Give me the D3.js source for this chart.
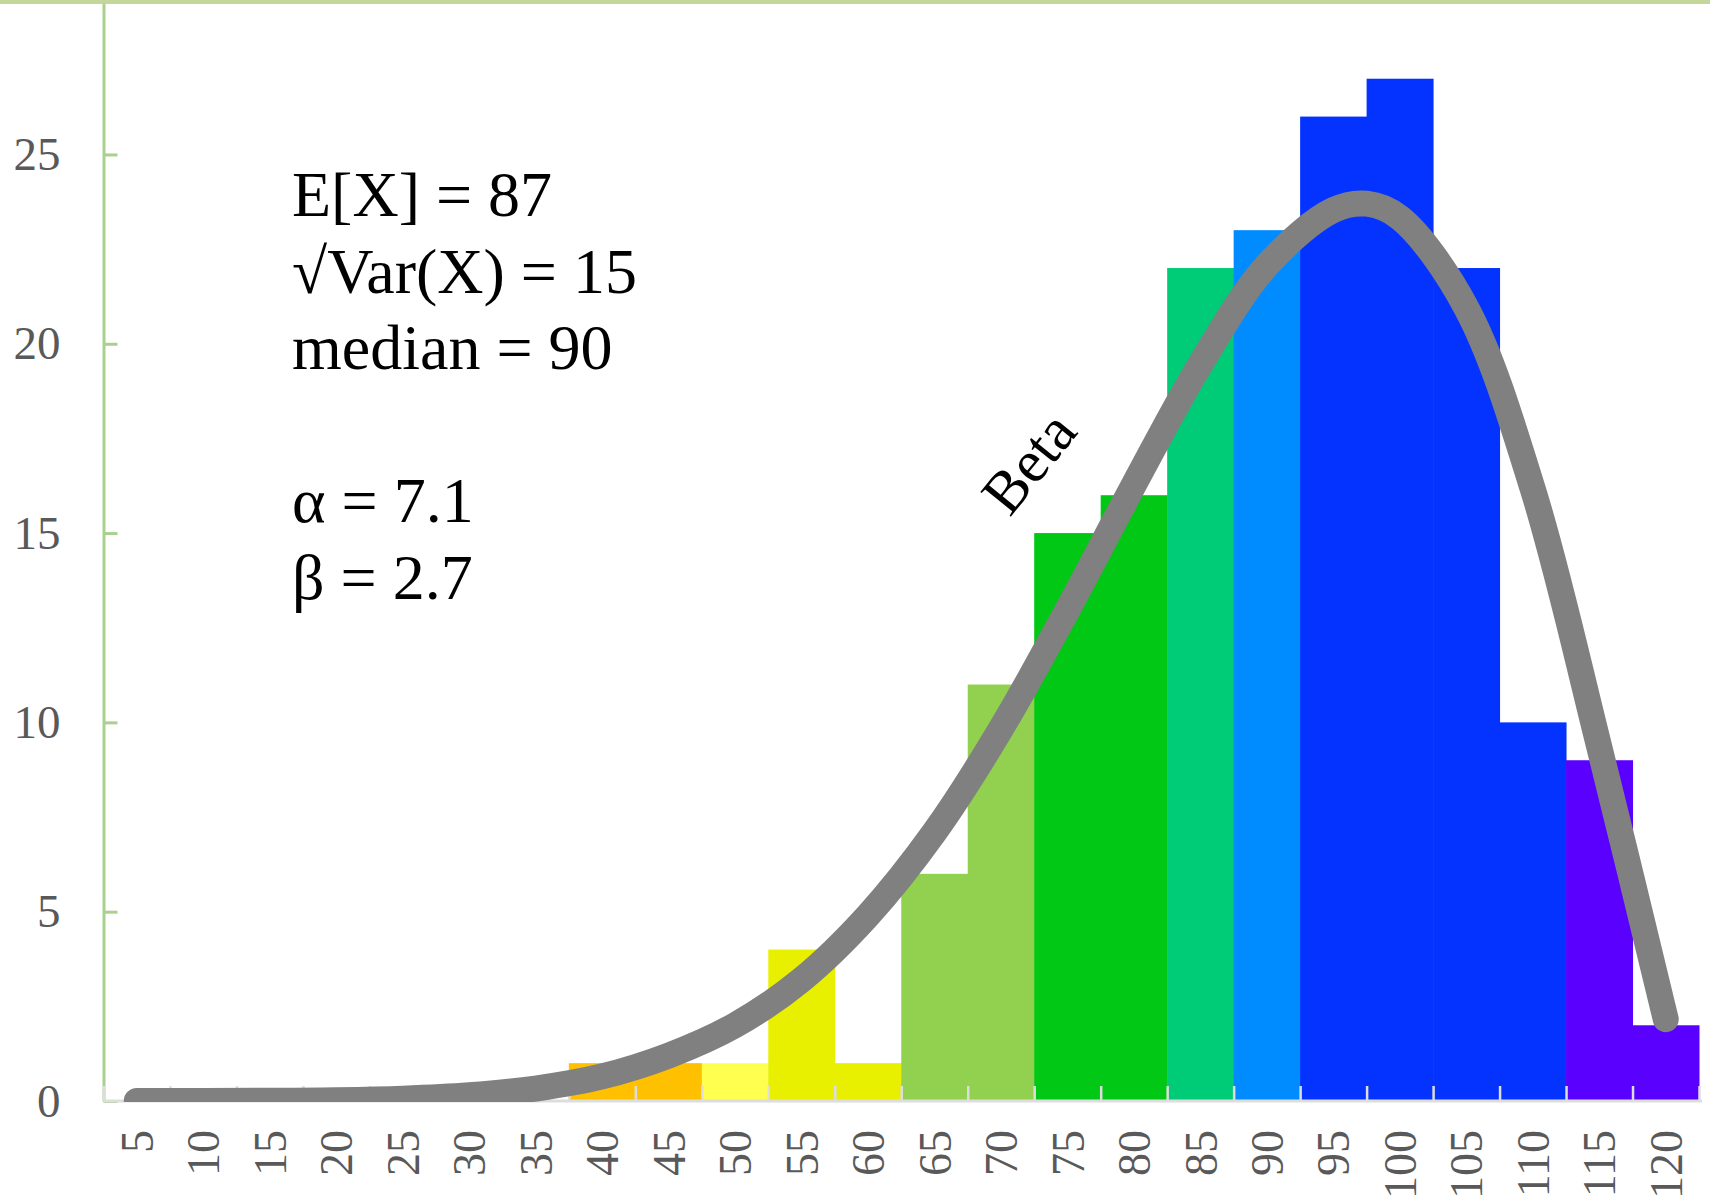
<!DOCTYPE html>
<html>
<head>
<meta charset="utf-8">
<script src="https://cdn.jsdelivr.net/npm/d3@7"></script>
<style>
  html, body { margin: 0; padding: 0; background: #ffffff; }
  svg { display: block; }
</style>
</head>
<body>
<svg id="chart" width="1710" height="1202"></svg>
<script>
// ---- data ----
const categories = ["5","10","15","20","25","30","35","40","45","50","55","60",
                    "65","70","75","80","85","90","95","100","105","110","115","120"];
const counts = [0,0,0,0,0,0,0,1,1,1,4,1,6,11,15,16,22,23,26,27,22,10,9,2];
const barColors = ["#ffc000","#ffc000","#ffc000","#ffc000","#ffc000","#ffc000","#ffc000",
                   "#ffc000","#ffc000","#ffff50","#e8f000","#e8f000","#92d050","#92d050",
                   "#00c814","#00c814","#00cc77","#008cff","#0433ff","#0433ff","#0433ff",
                   "#0433ff","#5a00ff","#5a00ff"];
const curveX = [5,10,15,20,25,30,35,40,45,50,55,60,65,70,75,80,85,90,95,97.5,100,105,110,115,120];
const curveY = [0,0,0.005,0.02,0.06,0.15,0.33,0.65,1.2,2.0,3.2,4.9,7.1,9.83,12.97,
                16.28,19.46,22.07,23.53,23.7,23.33,20.95,16.16,9.35,2.16];
const yTicks = [0,5,10,15,20,25];
const xEdges = [2.5,7.5,12.5,17.5,22.5,27.5,32.5,37.5,42.5,47.5,52.5,57.5,62.5,67.5,
                72.5,77.5,82.5,87.5,92.5,97.5,102.5,107.5,112.5,117.5,122.5];
const statLines = ["E[X] = 87", "\u221AVar(X) = 15", "median = 90", "", "\u03B1 = 7.1", "\u03B2 = 2.7"];
const curveLabel = "Beta";

(function () {
// ---- layout ----
const W = 1710, H = 1202;
const plotLeft = 103.5, plotRight = 1699, plotBottom = 1101, plotTop = 3;
const serif = "'Liberation Serif', 'Times New Roman', serif";

const svg = d3.select("#chart");

const xb = d3.scaleBand().domain(categories).range([plotLeft, plotRight]).padding(0);
const xl = d3.scaleLinear().domain([2.5, 122.5]).range([plotLeft, plotRight]);
const y = d3.scaleLinear().domain([0, 29]).range([plotBottom, plotTop]);

// top border
svg.append("rect").attr("x", 0).attr("y", 0).attr("width", W).attr("height", 4)
   .attr("fill", "#c4d79b");

// bars
svg.append("g").selectAll("rect")
  .data(categories)
  .join("rect")
  .attr("x", d => xb(d))
  .attr("width", xb.bandwidth() + 0.5)
  .attr("y", (d, i) => y(counts[i]))
  .attr("height", (d, i) => y(0) - y(counts[i]))
  .attr("fill", (d, i) => barColors[i]);

// y axis
const yAxis = svg.append("g")
  .attr("transform", `translate(${plotLeft},0)`)
  .call(d3.axisLeft(y).tickValues(yTicks).tickSize(-14).tickSizeOuter(0).tickPadding(43));
yAxis.select(".domain").attr("stroke", "#a9d18e").attr("stroke-width", 3);
yAxis.selectAll(".tick line").attr("stroke", "#a9d18e").attr("stroke-width", 3);
yAxis.selectAll(".tick text")
  .attr("font-family", serif).attr("font-size", 47).attr("fill", "#595959");

// x axis ticks at bin edges
const xTickAxis = svg.append("g")
  .attr("transform", `translate(0,${plotBottom})`)
  .call(d3.axisBottom(xl).tickValues(xEdges).tickSize(-15).tickSizeOuter(0).tickFormat(""));
xTickAxis.select(".domain").attr("stroke", "#dddddd").attr("stroke-width", 3)
  .attr("d", `M${plotLeft},0H${plotRight + 3}`);
xTickAxis.selectAll(".tick line").attr("stroke", "#dddddd").attr("stroke-width", 2.5);

// x labels
const xLabAxis = svg.append("g")
  .attr("transform", `translate(0,${plotBottom})`)
  .call(d3.axisBottom(xb).tickSize(0));
xLabAxis.select(".domain").remove();
xLabAxis.selectAll(".tick text")
  .attr("font-family", serif).attr("font-size", 46).attr("fill", "#595959")
  .attr("transform", "rotate(-90)")
  .attr("text-anchor", "end")
  .attr("x", -29).attr("y", 0).attr("dy", "0.35em");

// curve
svg.append("clipPath").attr("id", "clip")
  .append("rect").attr("x", 0).attr("y", 0).attr("width", W).attr("height", plotBottom + 1);

const line = d3.line()
  .x((d, i) => xl(curveX[i]))
  .y(d => y(d))
  .curve(d3.curveCatmullRom.alpha(0.5));

svg.append("path")
  .attr("clip-path", "url(#clip)")
  .attr("d", line(curveY))
  .attr("fill", "none")
  .attr("stroke", "#808080")
  .attr("stroke-width", 26)
  .attr("stroke-linecap", "round")
  .attr("stroke-linejoin", "round");

// curve label
svg.append("text")
  .attr("transform", "translate(1028,462) rotate(-51)")
  .attr("text-anchor", "middle")
  .attr("dy", "0.35em")
  .attr("font-family", serif)
  .attr("font-size", 60)
  .attr("fill", "#000")
  .text(curveLabel);

// stats text
svg.append("g").selectAll("text")
  .data(statLines)
  .join("text")
  .attr("x", 292)
  .attr("y", (d, i) => 216 + i * 76.5)
  .attr("font-family", serif)
  .attr("font-size", 64)
  .attr("fill", "#000")
  .text(d => d);
})();
</script>
</body>
</html>
